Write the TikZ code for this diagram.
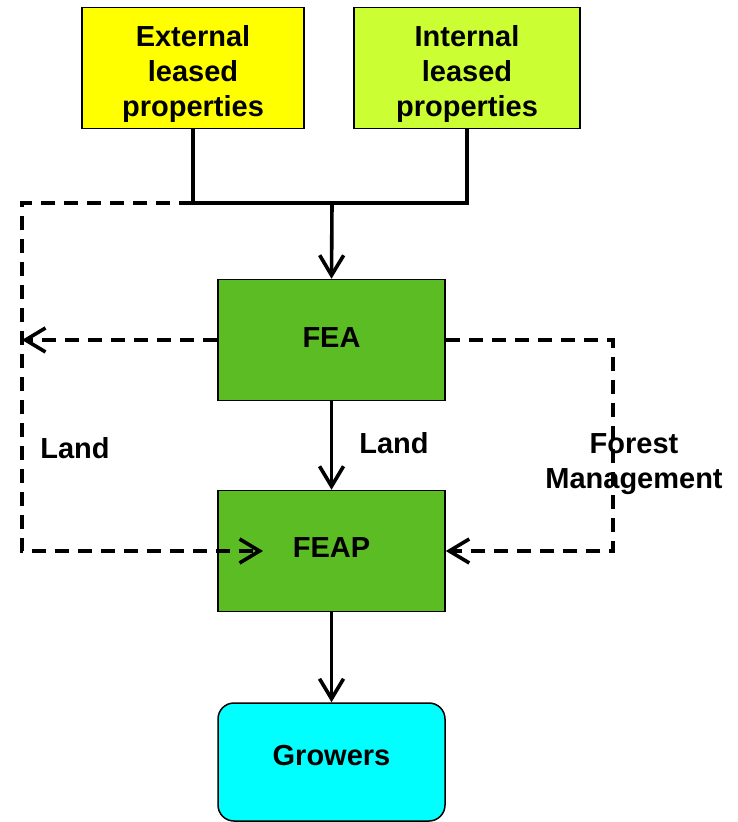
\documentclass[tikz,border=0pt]{standalone}
\usepackage{fontspec}
\setmainfont{Liberation Sans}
\usepackage{tikz}
\usetikzlibrary{arrows.meta,calc,positioning}
\usepackage{xcolor}
\definecolor{myellow}{HTML}{FFFF00}
\definecolor{mlime}{HTML}{CCFF33}
\definecolor{mgreen}{HTML}{5BBD23}
\definecolor{mcyan}{HTML}{00FFFF}
\tikzstyle{box}=[rectangle, draw=black, line width=0.75pt, inner sep=2pt, minimum height=60.5pt]
\tikzstyle{lease}=[box, minimum width=111pt]
\tikzstyle{unit}=[box, minimum width=113.5pt, fill=mgreen]
\tikzstyle{lbl}=[align=center, inner sep=0pt, font=\fontsize{14.5}{17.5}\selectfont\bfseries]
\tikzstyle{l1}=[line width=1.8pt]
\tikzstyle{dl}=[l1, dash pattern=on 7pt off 4.5pt]

\begin{document}
\begin{tikzpicture}[x=0.5pt, y=-0.5pt, >={Straight Barb[length=10pt,width=12pt,line width=1.8pt]}]
    \useasboundingbox (0,0) rectangle (737,822);
    \node (ext) [lease, fill=myellow, label={[lbl, yshift=-3pt]center:External\\leased\\properties}] at (193,68) {};
    \node (int) [lease, fill=mlime, minimum width=113pt, label={[lbl, yshift=-3pt]center:Internal\\leased\\properties}] at (467,68) {};
    \node (fea) [unit, label={[lbl, yshift=1pt]center:FEA}] at (331.5,340) {};
    \node (feap) [unit, label={[lbl, yshift=1.5pt]center:FEAP}] at (331.5,551) {};
    \node (grow) [unit, fill=mcyan, rounded corners=8pt, minimum height=59pt, label={[lbl, yshift=3pt]center:Growers}] at (331.5,762) {};
    \coordinate (join) at (332,203);
    \coordinate (ltop) at (22,203);
    \coordinate (lbot) at (22,551);
    \coordinate (landin) at (263,551);
    \coordinate (rbot) at (613,551);
    \draw[l1] (ext.south) |- (join) -| (int.south);
    \draw[l1, ->] (join) -- (fea.north);
    \draw[l1, ->] (fea.south) -- (feap.north);
    \draw[l1, ->] (feap.south) -- (grow.north);
    \draw[dl, ->] (ext.south |- join) -- (ltop) -- (lbot) -- (landin);
    \draw[dl, ->] (fea.west) -- (fea.west -| ltop);
    \draw[dl, ->] (fea.east) -| (rbot) -- (feap.east);
    \node (landl) [lbl] at (75,448) {Land};
    \node (landm) [lbl] at (394,443) {Land};
    \node (forest) [lbl] at (634,464) {Forest\\Management};
\end{tikzpicture}
\end{document}
